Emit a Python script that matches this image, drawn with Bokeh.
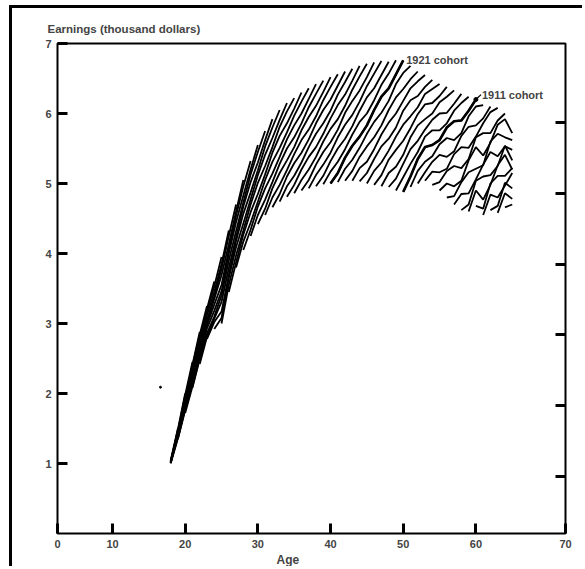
from bokeh.plotting import figure
from bokeh.models import Range1d, LinearAxis, FixedTicker, Label, Title
from bokeh.embed import file_html
from bokeh.resources import INLINE

# ---- data: mean earnings (thousand dollars) by single year of age 18..65, one row per survey year ----
years = list(range(1961, 1972))
ages = list(range(18, 66))

earn_1961 = [1.00,1.35,1.72,2.08,2.42,2.78,2.92,3.00,3.45,3.80,4.05,4.25,4.42,4.55,4.66,4.74,4.81,4.86,4.90,4.93,
             4.96,4.99,5.00,5.02,5.04,5.04,5.03,5.00,4.98,4.96,4.95,4.90,4.88,4.95,5.00,5.04,4.98,4.90,4.80,4.70,
             4.62,4.60,4.68,4.55,4.62,4.58,4.66,4.62]
earn_1962 = [1.01,1.36,1.76,2.10,2.49,2.81,3.02,3.08,3.55,3.87,4.17,4.34,4.55,4.64,4.80,4.85,4.96,4.98,5.05,5.05,
             5.12,5.11,5.17,5.15,5.21,5.18,5.22,5.15,5.18,5.12,5.15,5.07,5.09,5.10,5.18,5.16,5.17,5.02,5.00,4.82,
             4.85,4.70,4.90,4.64,4.84,4.68,4.86,4.70]
earn_1963 = [1.01,1.37,1.79,2.14,2.52,2.86,3.07,3.17,3.65,3.97,4.27,4.44,4.67,4.77,4.93,4.98,5.10,5.11,5.20,5.20,
             5.27,5.27,5.32,5.31,5.37,5.34,5.38,5.31,5.35,5.30,5.34,5.24,5.28,5.28,5.35,5.31,5.31,5.16,5.18,4.96,
             5.02,4.86,5.04,4.77,5.00,4.80,5.01,4.78]
earn_1964 = [1.01,1.41,1.79,2.20,2.55,2.93,3.10,3.31,3.69,4.09,4.33,4.59,4.74,4.93,5.02,5.15,5.19,5.29,5.30,5.38,
             5.38,5.45,5.44,5.50,5.49,5.54,5.51,5.53,5.49,5.53,5.47,5.48,5.41,5.49,5.45,5.52,5.39,5.41,5.21,5.25,
             5.04,5.16,5.06,5.10,4.98,5.11,4.97,4.93]
earn_1965 = [1.01,1.42,1.82,2.24,2.59,2.98,3.18,3.40,3.79,4.18,4.43,4.70,4.85,5.05,5.14,5.28,5.33,5.42,5.44,5.52,
             5.52,5.60,5.59,5.66,5.64,5.70,5.67,5.71,5.66,5.70,5.64,5.67,5.61,5.66,5.61,5.67,5.55,5.56,5.38,5.42,
             5.22,5.33,5.21,5.27,5.12,5.26,5.11,5.15]
earn_1966 = [1.02,1.42,1.87,2.26,2.66,3.01,3.27,3.46,3.90,4.23,4.57,4.77,5.01,5.13,5.31,5.38,5.50,5.52,5.62,5.63,
             5.71,5.71,5.78,5.77,5.84,5.82,5.88,5.83,5.88,5.83,5.87,5.80,5.84,5.79,5.83,5.77,5.76,5.62,5.65,5.46,
             5.52,5.35,5.52,5.26,5.45,5.25,5.41,5.22]
earn_1967 = [1.02,1.43,1.90,2.29,2.71,3.05,3.35,3.55,4.00,4.32,4.67,4.87,5.12,5.25,5.44,5.51,5.63,5.66,5.76,5.77,
             5.86,5.86,5.93,5.92,6.01,5.98,6.04,6.00,6.05,6.01,6.05,6.00,6.04,5.96,5.99,5.92,5.91,5.76,5.80,5.62,
             5.68,5.51,5.66,5.40,5.60,5.39,5.54,5.20]
earn_1968 = [1.03,1.46,1.91,2.35,2.73,3.12,3.39,3.69,4.05,4.45,4.73,5.02,5.19,5.41,5.52,5.68,5.73,5.83,5.86,5.95,
             5.96,6.05,6.04,6.12,6.11,6.18,6.17,6.23,6.19,6.24,6.18,6.23,6.18,6.19,6.09,6.13,6.00,6.00,5.86,5.89,
             5.72,5.81,5.67,5.72,5.58,5.71,5.53,5.33]
earn_1969 = [1.03,1.46,1.93,2.39,2.78,3.17,3.45,3.78,4.13,4.54,4.83,5.13,5.30,5.53,5.65,5.81,5.86,5.97,6.00,6.09,
             6.11,6.19,6.20,6.27,6.27,6.34,6.33,6.39,6.36,6.41,6.36,6.42,6.35,6.36,6.25,6.28,6.15,6.16,6.01,6.04,
             5.90,5.96,5.83,5.86,5.72,5.84,5.66,5.48]
earn_1970 = [1.04,1.49,1.98,2.41,2.84,3.21,3.53,3.85,4.25,4.60,4.96,5.20,5.45,5.62,5.80,5.91,6.03,6.07,6.17,6.21,
             6.28,6.31,6.38,6.40,6.45,6.47,6.53,6.52,6.57,6.55,6.57,6.56,6.58,6.49,6.46,6.38,6.35,6.25,6.24,6.14,
             6.15,6.04,6.10,5.93,6.02,5.90,5.92,5.62]
earn_1971 = [1.04,1.50,2.00,2.45,2.88,3.25,3.60,3.95,4.33,4.70,5.05,5.32,5.55,5.75,5.92,6.05,6.15,6.22,6.30,6.36,
             6.42,6.47,6.52,6.56,6.60,6.64,6.68,6.71,6.73,6.75,6.74,6.76,6.76,6.68,6.60,6.55,6.48,6.42,6.38,6.33,
             6.28,6.24,6.20,6.12,6.10,6.08,6.00,5.72]

cohorts = list(range(1896, 1954))          # birth years
labelled_cohorts = [1921, 1911]
x_ticks = [10, 20, 30, 40, 50, 60]
x_tick_labels = ["10", "20", "30", "40", "50", "60"]
x_corner_labels = ["0", "70"]
y_ticks = [1, 2, 3, 4, 5, 6, 7]
stray_age = [16.6]
stray_val = [2.09]

rows = [earn_1961, earn_1962, earn_1963, earn_1964, earn_1965, earn_1966,
        earn_1967, earn_1968, earn_1969, earn_1970, earn_1971]

def cohort_path(c):
    xa, yv = [], []
    for yr, row in zip(years, rows):
        a = yr - c
        if ages[0] <= a <= ages[-1]:
            xa.append(a)
            yv.append(row[a - ages[0]])
    return xa, yv

xs, ys = [], []
for c in cohorts:
    xa, yv = cohort_path(c)
    if len(xa) >= 2:
        xs.append(xa)
        ys.append(yv)

X0, X1 = 2.43, 72.33

# ---- figure ----
p = figure(width=573, height=561, x_range=Range1d(X0, X1), y_range=Range1d(0, 7),
           output_backend="svg", toolbar_location=None,
           min_border_left=45, min_border_right=20, min_border_top=35, min_border_bottom=36)
p.styles = {"margin-left": "9px", "margin-top": "5px",
            "border-left": "3px solid black", "border-top": "3px solid black"}
p.grid.visible = False
p.outline_line_color = "black"
p.outline_line_width = 2
p.background_fill_color = "white"
p.border_fill_color = "white"

FONT = "Liberation Sans"

p.title.text = "Earnings (thousand dollars)"
p.title.align = "left"
p.title.offset = -10
p.title.standoff = 18
p.title.text_font = FONT
p.title.text_font_style = "bold"
p.title.text_font_size = "11.5px"

xa_ = p.xaxis[0]
xa_.ticker = FixedTicker(ticks=[X0] + x_ticks + [X1])
overrides = {X0: x_corner_labels[0], X1: x_corner_labels[1]}
overrides.update({t: s for t, s in zip(x_ticks, x_tick_labels)})
xa_.major_label_overrides = overrides
xa_.axis_line_color = None
xa_.major_tick_in = 10
xa_.major_tick_out = 0
xa_.major_tick_line_width = 3
xa_.minor_tick_line_color = None
xa_.major_label_standoff = 6
xa_.major_label_text_font = FONT
xa_.major_label_text_font_style = "bold"
xa_.major_label_text_font_size = "11px"

ya_ = p.yaxis[0]
ya_.ticker = FixedTicker(ticks=y_ticks)
ya_.axis_line_color = None
ya_.major_tick_in = 10
ya_.major_tick_out = 0
ya_.major_tick_line_width = 3
ya_.minor_tick_line_color = None
ya_.major_label_standoff = 6
ya_.major_label_text_font = FONT
ya_.major_label_text_font_style = "bold"
ya_.major_label_text_font_size = "11px"

p.extra_y_ranges = {"right": Range1d(0.195, 7.116)}
ra = LinearAxis(y_range_name="right", ticker=FixedTicker(ticks=y_ticks[:-1]))
ra.axis_line_color = None
ra.major_tick_in = 10
ra.major_tick_out = 0
ra.major_tick_line_width = 3
ra.minor_tick_line_color = None
ra.major_label_overrides = {t: "" for t in y_ticks[:-1]}
p.add_layout(ra, "right")

p.add_layout(Title(text="Age", align="left", offset=219, standoff=0,
                   text_font=FONT, text_font_style="bold", text_font_size="12px"), "below")

# cohort lines
p.multi_line(xs, ys, line_color="black", line_width=1.8)
for c in labelled_cohorts:
    xa, yv = cohort_path(c)
    p.line(xa, yv, line_color="black", line_width=2.6)

p.scatter(stray_age, stray_val, size=2, color="black")

# cohort labels
e21x, e21y = cohort_path(1921)
p.add_layout(Label(x=e21x[-1], y=e21y[-1], x_offset=3, text="1921 cohort",
                   text_baseline="middle", text_font=FONT, text_font_style="bold",
                   text_font_size="11px"))
e11x, e11y = cohort_path(1911)
p.line([e11x[-1], e11x[-1] + 0.7], [e11y[-1], e11y[-1] + 0.07], line_color="black", line_width=1.3)
p.scatter([e11x[-1]], [e11y[-1]], size=4, color="black")
p.add_layout(Label(x=e11x[-1], y=e11y[-1], x_offset=6, y_offset=5, text="1911 cohort",
                   text_baseline="middle", text_font=FONT, text_font_style="bold",
                   text_font_size="11px"))

open("out.html", "w").write(file_html(p, INLINE))
